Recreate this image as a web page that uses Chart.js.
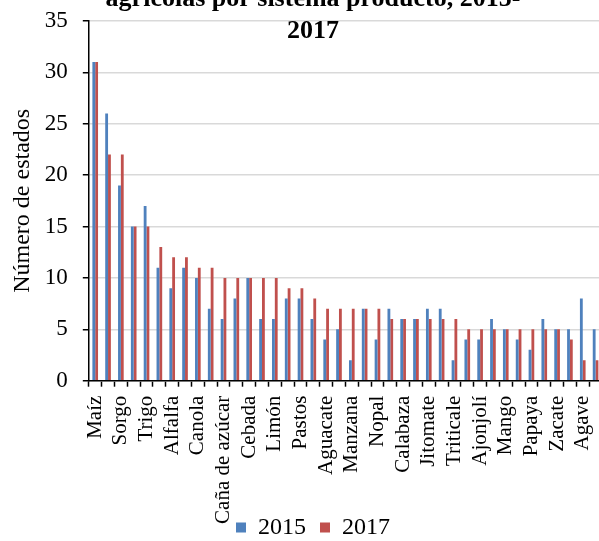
<!DOCTYPE html>
<html>
<head>
<meta charset="utf-8">
<script src="https://cdn.jsdelivr.net/npm/chart.js@4.4.1/dist/chart.umd.min.js"></script>
<style>
    html, body { margin: 0; padding: 0; background: #fff; }
    #frame { position: relative; width: 599px; height: 541px; overflow: hidden; }
    #chart { position: absolute; left: 0; top: -17px; }
</style>
</head>
<body>
<div id="frame">
    <canvas id="chart" width="626" height="558"></canvas>
</div>
<script>
// every other category is labelled in the original
const categories = [
    'Maíz', '', 'Sorgo', '', 'Trigo', '', 'Alfalfa', '', 'Canola', '',
    'Caña de azúcar', '', 'Cebada', '', 'Limón', '', 'Pastos', '', 'Aguacate', '',
    'Manzana', '', 'Nopal', '', 'Calabaza', '', 'Jitomate', '', 'Triticale', '',
    'Ajonjolí', '', 'Mango', '', 'Papaya', '', 'Zacate', '', 'Agave', ''
];
const values2015 = [31, 26, 19, 15, 17, 11, 9, 11, 10, 7, 6, 8, 10, 6, 6, 8, 8, 6, 4, 5,
                    2, 7, 4, 7, 6, 6, 7, 7, 2, 4, 4, 6, 5, 4, 3, 6, 5, 5, 8, 5];
const values2017 = [31, 22, 22, 15, 15, 13, 12, 12, 11, 11, 10, 10, 10, 10, 10, 9, 9, 8, 7, 7,
                    7, 7, 7, 6, 6, 6, 6, 6, 6, 5, 5, 5, 5, 5, 5, 5, 5, 4, 2, 2];
const titleLines = ['agrícolas por sistema producto, 2015-', '2017'];
const yTitle = 'Número de estados';

const serif = '"Liberation Serif", "Times New Roman", serif';

// long category names hang down next to the legend, so don't clip them to the axis box
const longLabels = {
    id: 'longLabels',
    afterLayout: (chart) => {
        chart.scales.x.bottom = chart.height;
    },
};

const ctx = document.getElementById('chart').getContext('2d');
new Chart(ctx, {
    type: 'bar',
    data: {
        labels: categories,
        datasets: [{
            label: '2015',
            data: values2015,
            backgroundColor: '#4F81BD',
            categoryPercentage: 0.44,
            barPercentage: 1.0,
        },
        {
            label: '2017',
            data: values2017,
            backgroundColor: '#C0504D',
            categoryPercentage: 0.44,
            barPercentage: 1.0,
        }],
    },
    options: {
        responsive: false,
        animation: false,
        layout: { padding: 0 },
        plugins: {
            title: {
                display: true,
                text: titleLines,
                color: '#000',
                font: { family: serif, size: 26, weight: 'bold', lineHeight: 1.23 },
                padding: { top: 0, bottom: -26 },
            },
            legend: {
                position: 'bottom',
                maxHeight: 39.5,
                labels: {
                    color: '#000',
                    boxWidth: 10,
                    boxHeight: 10,
                    padding: 14,
                    font: { family: serif, size: 24 },
                },
            },
            tooltip: { enabled: false },
        },
        scales: {
            x: {
                grid: {
                    display: true,
                    drawOnChartArea: false,
                    drawTicks: true,
                    tickLength: 6,
                    tickColor: '#000',
                    tickWidth: 1.5,
                },
                border: { display: true, color: '#000', width: 1.5 },
                ticks: {
                    autoSkip: false,
                    maxRotation: 90,
                    minRotation: 90,
                    padding: 9,
                    color: '#000',
                    font: { family: serif, size: 21 },
                },
                afterFit: (scale) => {
                    // plot is cut at the right edge of the picture
                    scale.height = 120.8;
                    scale.paddingLeft = 0;
                    scale.paddingRight = 24;
                },
            },
            y: {
                min: 0,
                max: 35,
                ticks: {
                    stepSize: 5,
                    padding: 15,
                    color: '#000',
                    font: { family: serif, size: 23 },
                },
                grid: {
                    color: '#d9d9d9',
                    lineWidth: 1.5,
                    tickLength: 6,
                    tickColor: '#000',
                    tickWidth: 1.5,
                },
                border: { display: true, color: '#000', width: 1.5 },
                title: {
                    display: true,
                    text: yTitle,
                    color: '#000',
                    font: { family: serif, size: 24 },
                    padding: { top: 8, bottom: -7 },
                },
            },
        },
    },
    plugins: [longLabels],
});
</script>
</body>
</html>
